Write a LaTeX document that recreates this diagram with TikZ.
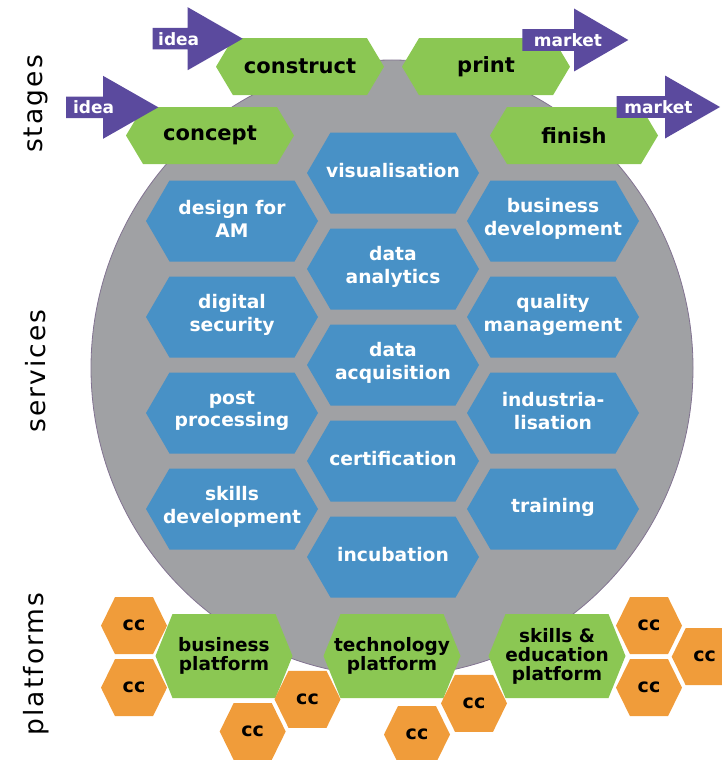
\documentclass[tikz,border=0pt]{standalone}
\usepackage{fontspec}
\setmainfont{DejaVu Sans}
\newfontfamily\sidefont[LetterSpace=8]{DejaVu Sans}
\definecolor{gcircle}{RGB}{160,161,164}
\definecolor{gedge}{RGB}{130,115,145}
\definecolor{hblue}{RGB}{72,145,198}
\definecolor{hgreen}{RGB}{139,199,83}
\definecolor{apurple}{RGB}{91,74,158}
\definecolor{corange}{RGB}{240,156,58}
\tikzset{
  bluetext/.style={text=white, font=\bfseries\fontsize{18.7}{22.5}\selectfont, align=center, inner sep=0pt, yshift=2pt},
  stagetext/.style={text=black, font=\bfseries\fontsize{21}{24}\selectfont, align=center, inner sep=0pt},
  plattext/.style={text=black, font=\bfseries\fontsize{18.5}{19}\selectfont, align=center, inner sep=0pt},
  cctext/.style={text=black, font=\bfseries\fontsize{19}{22}\selectfont, inner sep=0pt},
  arrowtext/.style={text=white, font=\bfseries\fontsize{17}{20}\selectfont, inner sep=0pt},
  sidelabel/.style={text=black, font=\sidefont\fontsize{26.5}{30}\selectfont, rotate=90, inner sep=0pt}
}
% #1 fill, #2 text style, #3 name, #4 cx, #5 cy, #6 half width, #7 half height, #8 inset, #9 text
\newcommand\hexat[9]{%
  \fill[#1] ({#4-#6},#5) -- ({#4-#6+#8},{#5-#7}) -- ({#4+#6-#8},{#5-#7}) -- ({#4+#6},#5)
    -- ({#4+#6-#8},{#5+#7}) -- ({#4-#6+#8},{#5+#7}) -- cycle;
  \node[#2] (#3) at (#4,#5) {#9};
}
\newcommand\bluehex[4]{\hexat{hblue}{bluetext}{#1}{#2}{#3}{86}{40.5}{23.5}{#4}}
\newcommand\stagehex[4]{\hexat{hgreen}{stagetext}{#1}{#2}{#3}{84}{28.5}{17}{#4}}
\newcommand\plathex[4]{\hexat{hgreen}{plattext}{#1}{#2}{#3}{68.5}{42}{17}{#4}}
\newcommand\cchex[3]{\hexat{corange}{cctext}{#1}{#2}{#3}{33}{28.5}{14}{cc}}
% #1 name, #2 tail x, #3 head base x, #4 tip x, #5 cy, #6 text x, #7 text
\newcommand\parrow[7]{%
  \fill[apurple] (#2,{#5-10.8}) -- (#3,{#5-10.8}) -- (#3,{#5-31.5}) -- (#4,#5)
    -- (#3,{#5+31.5}) -- (#3,{#5+10.8}) -- (#2,{#5+10.8}) -- cycle;
  \node[arrowtext] (#1) at (#6,#5) {#7};
}
\begin{document}
\begin{tikzpicture}[x=1pt,y=-1pt]
\useasboundingbox (0,0) rectangle (721,760);
% big circle
\fill[gcircle] (392,368) ellipse [x radius=301, y radius=308];
\draw[gedge, line width=0.8pt] (392,368) ellipse [x radius=301, y radius=308];
% services
\bluehex{vis}{393}{173}{visualisation}
\bluehex{dan}{393}{269}{data\\analytics}
\bluehex{dac}{393}{365}{data\\acquisition}
\bluehex{cert}{393}{461}{certification}
\bluehex{inc}{393}{557}{incubation}
\bluehex{dfam}{232}{221}{design for\\AM}
\bluehex{dsec}{232}{317}{digital\\security}
\bluehex{post}{232}{413}{post\\processing}
\bluehex{skd}{232}{509}{skills\\development}
\bluehex{bdev}{553}{221}{business\\development}
\bluehex{qman}{553}{317}{quality\\management}
\bluehex{indu}{553}{413}{industria-\\lisation}
\bluehex{train}{553}{509}{training}
% stages
\stagehex{construct}{300}{66.7}{construct}
\stagehex{print}{486}{66.7}{print}
\stagehex{concept}{210}{135.5}{concept}
\stagehex{finish}{574}{135.5}{finish}
\parrow{idea1}{152.7}{187.7}{242.7}{38.7}{178.7}{idea}
\parrow{idea2}{66}{103}{158.3}{107.3}{93.5}{idea}
\parrow{market1}{522.3}{574}{628.3}{40}{568}{market}
\parrow{market2}{616.7}{665}{720}{107}{658.5}{market}
% platforms
\plathex{bplat}{224}{656}{business\\platform}
\plathex{tplat}{392}{656}{technology\\platform}
\plathex{splat}{557}{656}{skills \&\\education\\platform}
\cchex{cc1}{134}{625.7}
\cchex{cc2}{134}{687.7}
\cchex{cc3}{252.7}{731.5}
\cchex{cc4}{307.5}{699.3}
\cchex{cc5}{474}{703.3}
\cchex{cc6}{417}{734.5}
\cchex{cc7}{649}{625.7}
\cchex{cc8}{649}{687.7}
\cchex{cc9}{704.7}{656.7}
% side labels
\node[sidelabel] (lstages) at (36,104) {stages};
\node[sidelabel] (lservices) at (36,371) {services};
\node[sidelabel] (lplatforms) at (36,664) {platforms};
\end{tikzpicture}
\end{document}
